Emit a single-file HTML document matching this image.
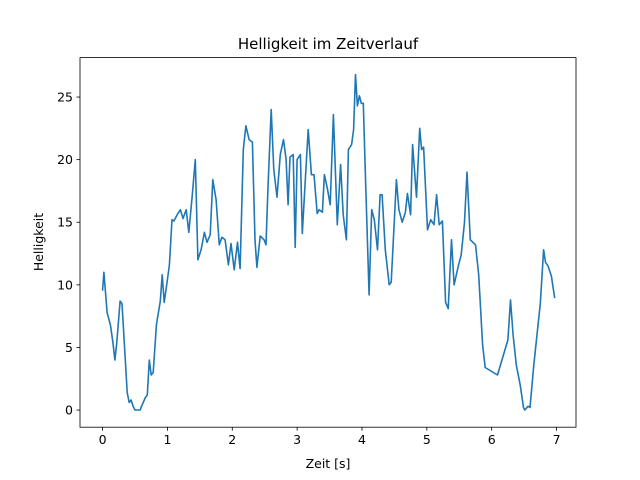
<!DOCTYPE html>
<html><head><meta charset="utf-8"><style>
body{margin:0;background:#fff;}
svg{display:block;font-family:"DejaVu Sans","Liberation Sans",sans-serif;}
</style></head><body>
<svg id="chart" width="640" height="480">
<rect width="640" height="480" fill="#fff"/>
<text x="328" y="49" text-anchor="middle" font-size="15">Helligkeit im Zeitverlauf</text>
<g id="plot"></g>
<text x="328" y="468" text-anchor="middle" font-size="12.5">Zeit [s]</text>
<text x="0" y="0" transform="translate(43,242) rotate(-90)" text-anchor="middle" font-size="12.5">Helligkeit</text>
</svg>
<script>
const times=[0,.02,.07,.12,.16,.19,.22,.27,.30,.35,.38,.41,.44,.47,.50,.58,.60,.66,.69,.72,.75,.78,.83,.89,.92,.95,1.00,1.03,1.07,1.10,1.15,1.20,1.24,1.29,1.33,1.38,1.43,1.47,1.52,1.57,1.61,1.66,1.70,1.75,1.80,1.84,1.89,1.94,1.98,2.03,2.08,2.12,2.17,2.21,2.26,2.31,2.35,2.38,2.43,2.49,2.52,2.55,2.60,2.64,2.69,2.74,2.79,2.83,2.86,2.89,2.94,2.97,3.00,3.05,3.08,3.13,3.17,3.22,3.26,3.31,3.34,3.39,3.42,3.47,3.51,3.56,3.62,3.67,3.71,3.76,3.79,3.84,3.87,3.90,3.93,3.96,3.99,4.02,4.05,4.11,4.15,4.19,4.24,4.28,4.31,4.36,4.42,4.45,4.53,4.57,4.62,4.67,4.70,4.75,4.78,4.84,4.89,4.92,4.95,5.01,5.06,5.11,5.15,5.19,5.24,5.29,5.33,5.38,5.42,5.49,5.53,5.58,5.62,5.67,5.75,5.80,5.86,5.90,6.09,6.25,6.29,6.33,6.38,6.44,6.49,6.51,6.56,6.59,6.65,6.75,6.80,6.83,6.87,6.92,6.97];
const brightness=[9.6,11.0,7.8,6.8,5.4,4.0,5.4,8.7,8.5,4.0,1.4,0.6,0.8,0.3,0,0,0.3,1.0,1.2,4.0,2.8,3.0,6.8,8.7,10.8,8.6,10.4,11.6,15.2,15.1,15.6,16.0,15.3,16.0,14.2,17.0,20.0,12.0,12.8,14.2,13.4,14.0,18.4,16.8,13.2,13.8,13.6,11.6,13.3,11.2,13.4,11.3,20.8,22.7,21.6,21.4,13.6,11.4,13.9,13.6,13.2,17.6,24.0,19.2,17.0,20.4,21.6,20.0,16.4,20.2,20.4,13.0,20.0,20.4,14.1,18.8,22.4,18.8,18.8,15.7,16.0,15.8,18.8,17.6,16.4,23.6,14.8,19.6,15.6,13.6,20.8,21.2,22.4,26.8,24.3,25.1,24.5,24.5,19.3,9.2,16.0,15.2,12.8,17.2,17.2,12.8,10.0,10.2,18.4,16.0,15.0,15.8,17.3,15.6,21.2,17.0,22.5,20.8,21.0,14.4,15.2,14.8,17.2,14.8,15.1,8.6,8.1,13.6,10.0,11.6,12.4,15.0,19.0,13.6,13.2,10.8,5.2,3.4,2.8,5.6,8.8,6.0,3.6,2.0,0.2,0,0.3,0.2,3.6,8.5,12.8,11.8,11.5,10.7,9.0];
const xTicks=[0,1,2,3,4,5,6,7];
const yTicks=[0,5,10,15,20,25];
const L=80,R=576,T=57.6,B=427.2;
const xMin=-0.348,xMax=7.3,yMin=-1.37,yMax=28.15;
const sx=v=>L+(v-xMin)/(xMax-xMin)*(R-L);
const sy=v=>B-(v-yMin)/(yMax-yMin)*(B-T);
const NS="http://www.w3.org/2000/svg";
const g=document.getElementById('plot');
function mk(tag,attrs){const e=document.createElementNS(NS,tag);for(const k in attrs)e.setAttribute(k,attrs[k]);g.appendChild(e);return e;}
xTicks.forEach(t=>{
  const x=sx(t);
  const tk=mk('line',{x1:x,x2:x,y1:B,y2:B+3.5,stroke:'#000','stroke-width':0.8});
  
  
  const lb=mk('text',{x:x,y:B+17,'text-anchor':'middle','font-size':12.5});
  lb.textContent=t;
  
  
});
yTicks.forEach(t=>{
  const y=sy(t);
  const tk=mk('line',{x1:L-3.5,x2:L,y1:y,y2:y,stroke:'#000','stroke-width':0.8});
  
  
  const lb=mk('text',{x:L-7,y:y+4.5,'text-anchor':'end','font-size':12.5});
  lb.textContent=t;
  
  
});
const pts=times.map((t,i)=>sx(t).toFixed(1)+','+sy(brightness[i]).toFixed(1)).join(' ');
const line=mk('polyline',{points:pts,fill:'none',stroke:'#1f77b4','stroke-width':1.6,'stroke-linejoin':'round','stroke-linecap':'square'});


const fr=mk('rect',{x:L,y:T,width:R-L,height:B-T,fill:'none',stroke:'#000','stroke-width':0.8});


</script>
</body></html>
